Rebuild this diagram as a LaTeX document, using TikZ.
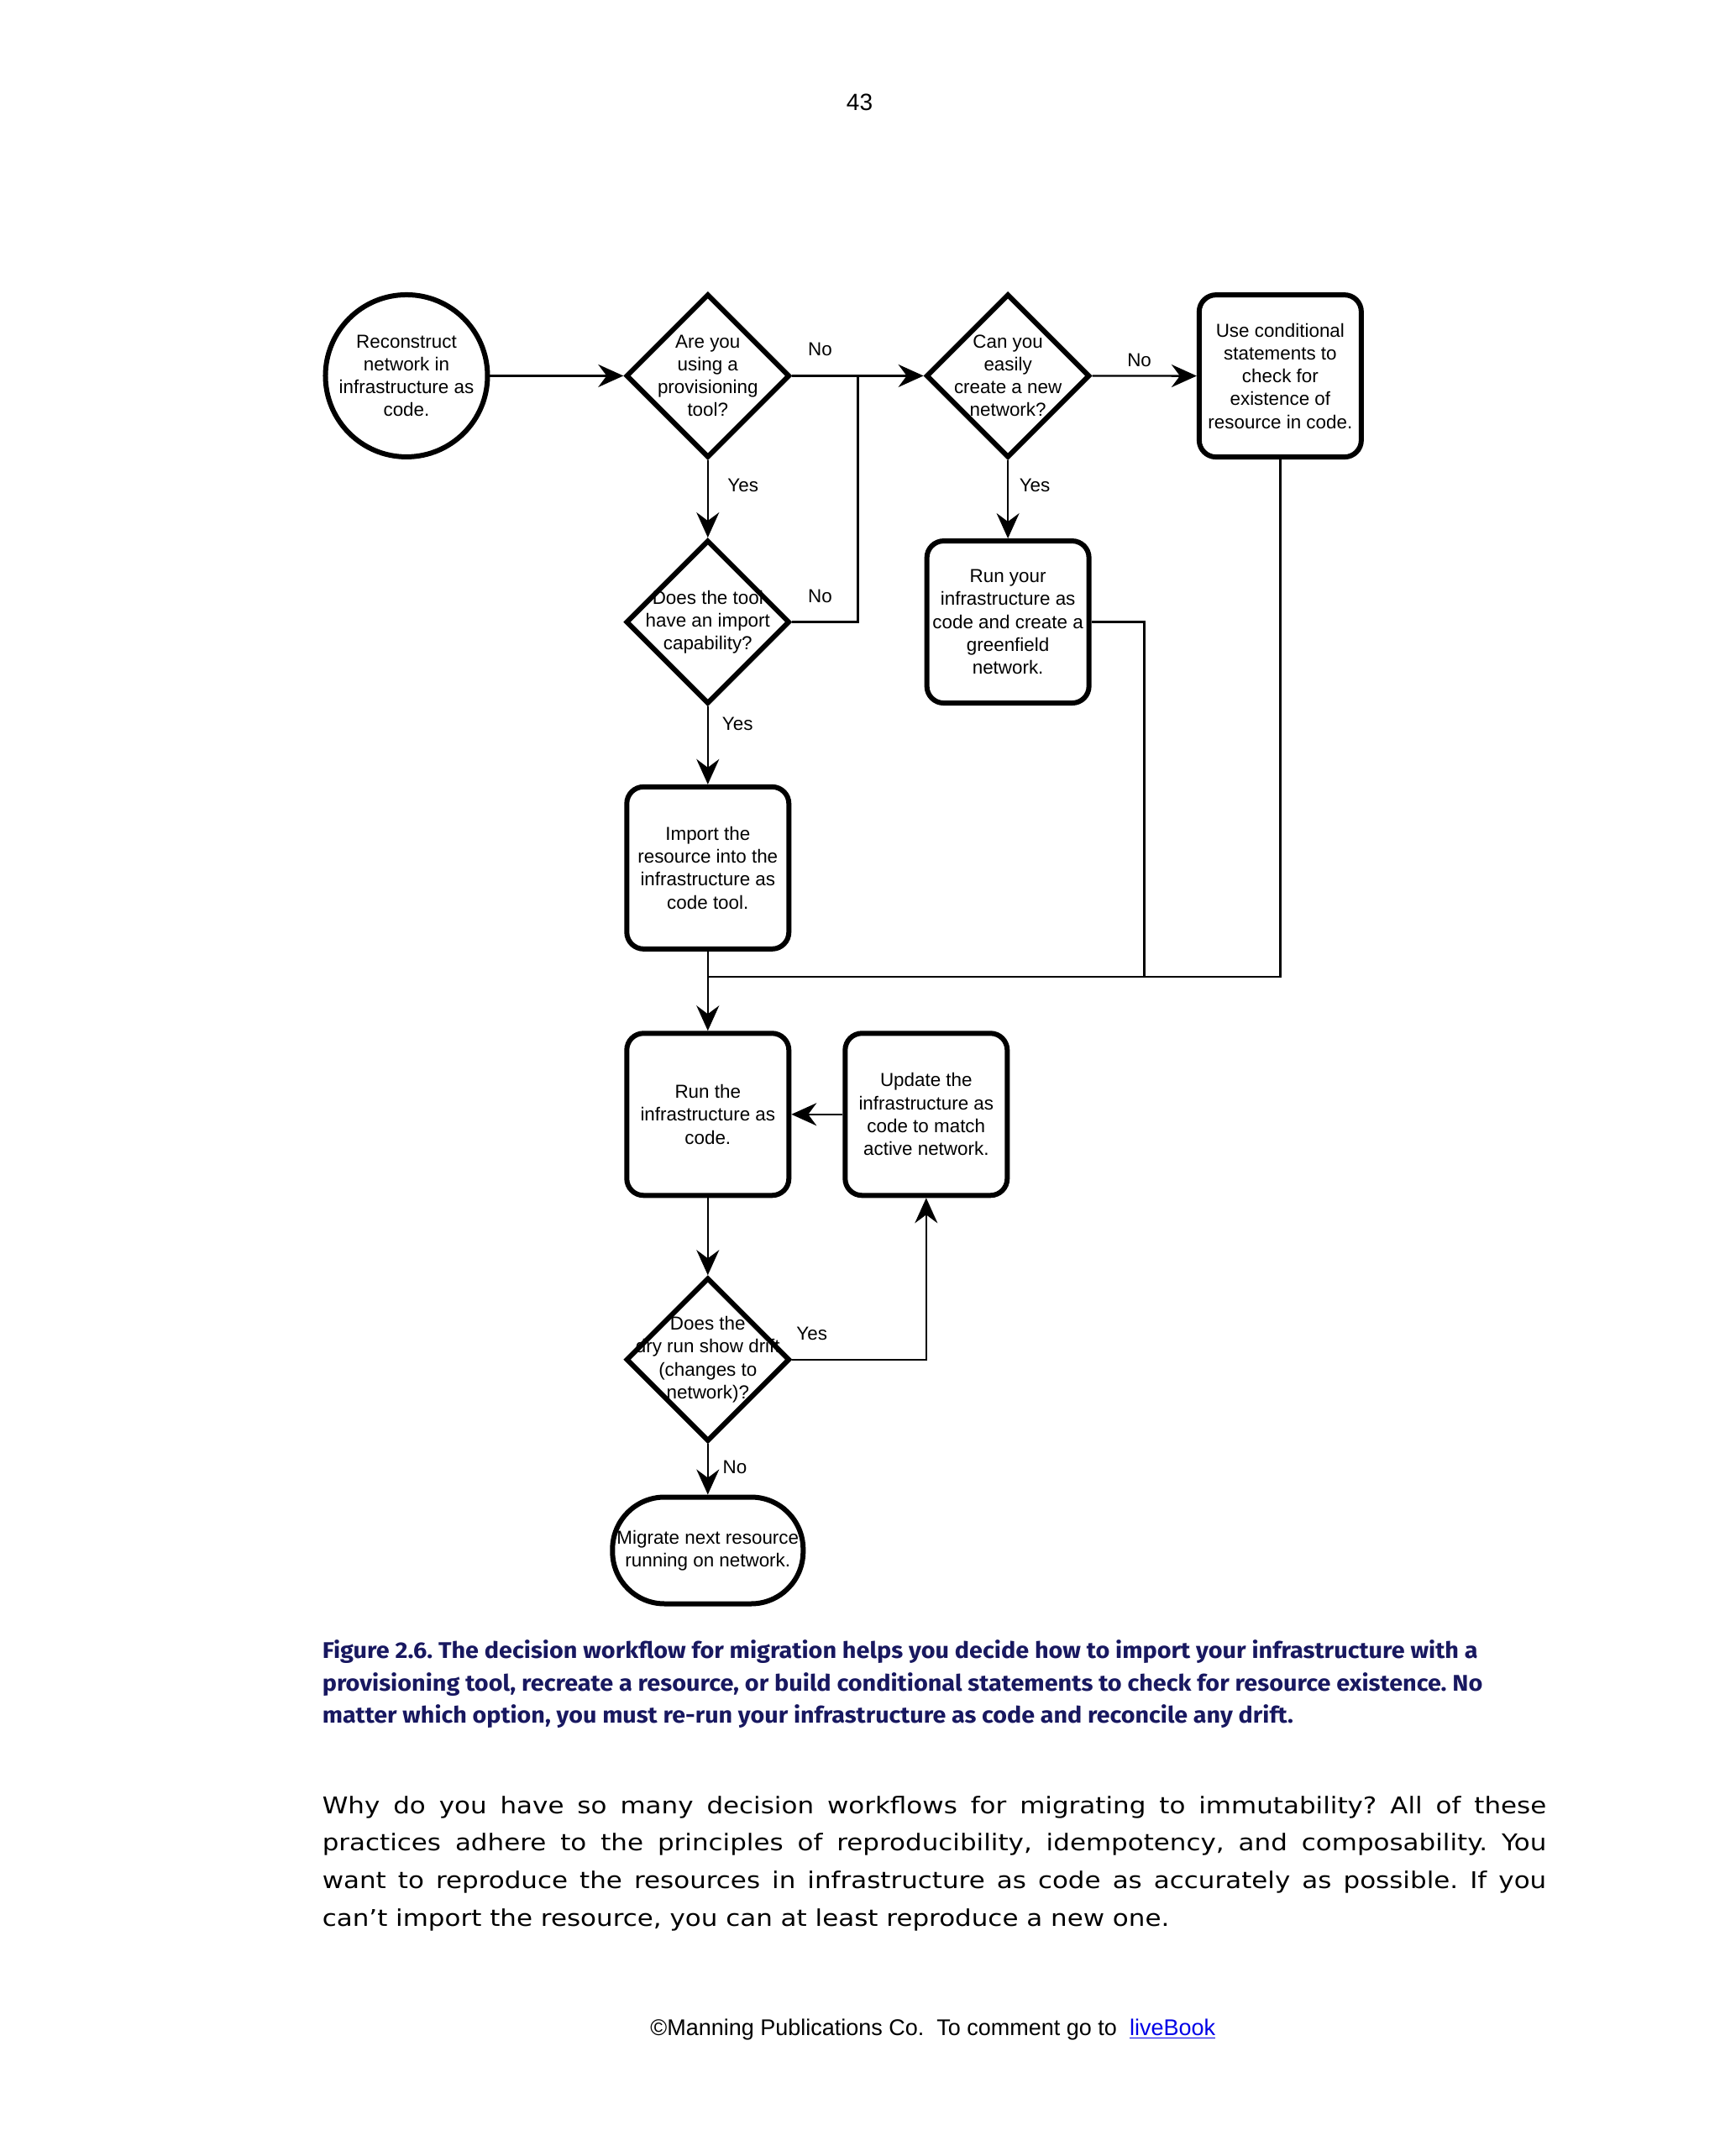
\documentclass[tikz,border=0pt]{standalone}
\usepackage{fontspec}
\usepackage{graphicx}
\usetikzlibrary{shapes.geometric,arrows.meta}
\setmainfont{Liberation Sans}
\newfontfamily\capfam{Fira Sans}
\newfontfamily\bodyfam{DejaVu Sans}
\definecolor{capblue}{RGB}{24,24,96}
\definecolor{linkblue}{RGB}{0,0,230}
\newlength\bodyL
\newcommand\flowfont{\fontsize{11.2}{13.6}\selectfont}
\newcommand\figcapfont{\capfam\bfseries\fontsize{13.5}{16}\selectfont}
\newcommand\bodytextfont{\bodyfam\fontsize{13.7}{16}\selectfont}
\tikzset{
  boxnode/.style={draw, line width=3pt, rounded corners=10pt, minimum width=96.5pt, minimum height=96.5pt, inner sep=0pt, align=center, font=\flowfont},
  dianode/.style={draw, diamond, aspect=1, line width=3pt, minimum width=97.5pt, minimum height=97.5pt, inner sep=0pt},
  circnode/.style={draw, circle, line width=3pt, minimum size=96.5pt, inner sep=0pt},
  termnode/.style={draw, line width=3pt, rounded corners=31pt, minimum width=113.5pt, minimum height=63.5pt, inner sep=0pt, align=center, font=\flowfont},
  txtnode/.style={align=center, font=\flowfont, inner sep=0pt},
  lblnode/.style={font=\flowfont, inner sep=0pt},
  conn/.style={line width=1.2pt},
  arr/.style={conn, -{Stealth[length=15pt,width=13.5pt,inset=5pt]}},
}
\begin{document}
\frenchspacing
\settowidth\bodyL{\bodytextfont can’t import the resource, you can at least reproduce a new one.}%
\pgfmathsetmacro\bsc{504.3/\the\bodyL}%
\pgfmathsetlengthmacro\bodyW{728.7pt/\bsc}%
\begin{tikzpicture}[x=0.8192pt,y=-0.8192pt]
\useasboundingbox (0,0) rectangle (1250,1566.77);
\fill[white] (0,0) rectangle (1250,1566.77);

% page number
\node[anchor=base, inner sep=0pt] (pagenum) at (624.7,80.4) {\fontsize{14}{16}\selectfont 43};

% texts under shapes
\node[txtnode] (tcirc) at (295.4,273.1) {Reconstruct\\network in\\infrastructure as\\code.};
\node[txtnode] (td1) at (514.4,273.1) {Are you\\using a\\provisioning\\tool?};
\node[txtnode] (td2) at (732.5,273.1) {Can you\\easily\\create a new\\network?};
\node[txtnode] (td3) at (514.4,452) {Does the tool\\have an import\\capability?};
\node[txtnode] (td4) at (514.4,988) {Does the\\dry run show drift\\(changes to\\network)?};

% shapes
\node[circnode] (circ) at (295.4,273.1) {};
\node[dianode] (d1) at (514.4,273.1) {};
\node[dianode] (d2) at (732.5,273.1) {};
\node[boxnode] (use) at (930.4,273.2) {Use conditional\\statements to\\check for\\existence of\\resource in code.};
\node[dianode] (d3) at (514.4,452) {};
\node[boxnode] (green) at (732.5,452) {Run your\\infrastructure as\\code and create a\\greenfield\\network.};
\node[boxnode] (imp) at (514.4,630.7) {Import the\\resource into the\\infrastructure as\\code tool.};
\node[boxnode] (run) at (514.4,809.8) {Run the\\infrastructure as\\code.};
\node[boxnode] (upd) at (673.1,809.8) {Update the\\infrastructure as\\code to match\\active network.};
\node[dianode] (d4) at (514.4,988) {};
\node[termnode] (term) at (514.4,1126.7) {Migrate next resource\\running on network.};

% junction coordinates
\coordinate (j1) at (623.5,273.1);
\coordinate (gc) at (831.7,710);
\coordinate (uc) at (930.4,710);
\coordinate (jn) at (514.4,710);

% connectors
\draw[arr] (circ) -- (d1);
\draw[arr] (d1) -- (d2);
\draw[arr] (d1) -- (d3);
\draw[conn] (d3.east) -| (j1);
\draw[arr] (d2) -- (use);
\draw[arr] (d2) -- (green);
\draw[arr] (d3) -- (imp);
\draw[arr] (imp) -- (run);
\draw[conn] (green.east) -| (gc) -- (jn);
\draw[conn] (use.south) -- (uc) -- (gc);
\draw[arr] (upd) -- (run);
\draw[arr] (run) -- (d4);
\draw[arr] (d4.east) -| (upd.south);
\draw[arr] (d4) -- (term);

% connector labels
\node[lblnode] (l1) at (596,254) {No};
\node[lblnode] (l2) at (540,353) {Yes};
\node[lblnode] (l3) at (596,433) {No};
\node[lblnode] (l4) at (536,526) {Yes};
\node[lblnode] (l5) at (828,262) {No};
\node[lblnode] (l6) at (752,353) {Yes};
\node[lblnode] (l7) at (590,969) {Yes};
\node[lblnode] (l8) at (534,1066) {No};

% caption
\node[anchor=base west, inner sep=0pt, text=capblue] (cap1) at (234,1205.4) {\resizebox{687.9pt}{\height}{\figcapfont Figure 2.6. The decision workflow for migration helps you decide how to import your infrastructure with a}};
\node[anchor=base west, inner sep=0pt, text=capblue] (cap2) at (234,1229.2) {\resizebox{690.8pt}{\height}{\figcapfont provisioning tool, recreate a resource, or build conditional statements to check for resource existence. No}};
\node[anchor=base west, inner sep=0pt, text=capblue] (cap3) at (234,1252.2) {\resizebox{578.0pt}{\height}{\figcapfont matter which option, you must re-run your infrastructure as code and reconcile any drift.}};

% body text
\node[anchor=base west, inner sep=0pt] (body1) at (234,1317.8) {\scalebox{\bsc}[1]{\makebox[\bodyW][s]{\bodytextfont Why do you have so many decision workflows for migrating to immutability? All of these}}};
\node[anchor=base west, inner sep=0pt] (body2) at (234,1345.1) {\scalebox{\bsc}[1]{\makebox[\bodyW][s]{\bodytextfont practices adhere to the principles of reproducibility, idempotency, and composability. You}}};
\node[anchor=base west, inner sep=0pt] (body3) at (234,1372.4) {\scalebox{\bsc}[1]{\makebox[\bodyW][s]{\bodytextfont want to reproduce the resources in infrastructure as code as accurately as possible. If you}}};
\node[anchor=base west, inner sep=0pt] (body4) at (234,1399.7) {\scalebox{\bsc}[1]{\bodytextfont can’t import the resource, you can at least reproduce a new one.}};

% footer
\node[anchor=base west, inner sep=0pt] (foot) at (472.4,1479) {\fontsize{13.5}{16}\selectfont ©Manning Publications Co.\ \ To comment go to\ \ \textcolor{linkblue}{\underline{liveBook}}};
\end{tikzpicture}
\end{document}
